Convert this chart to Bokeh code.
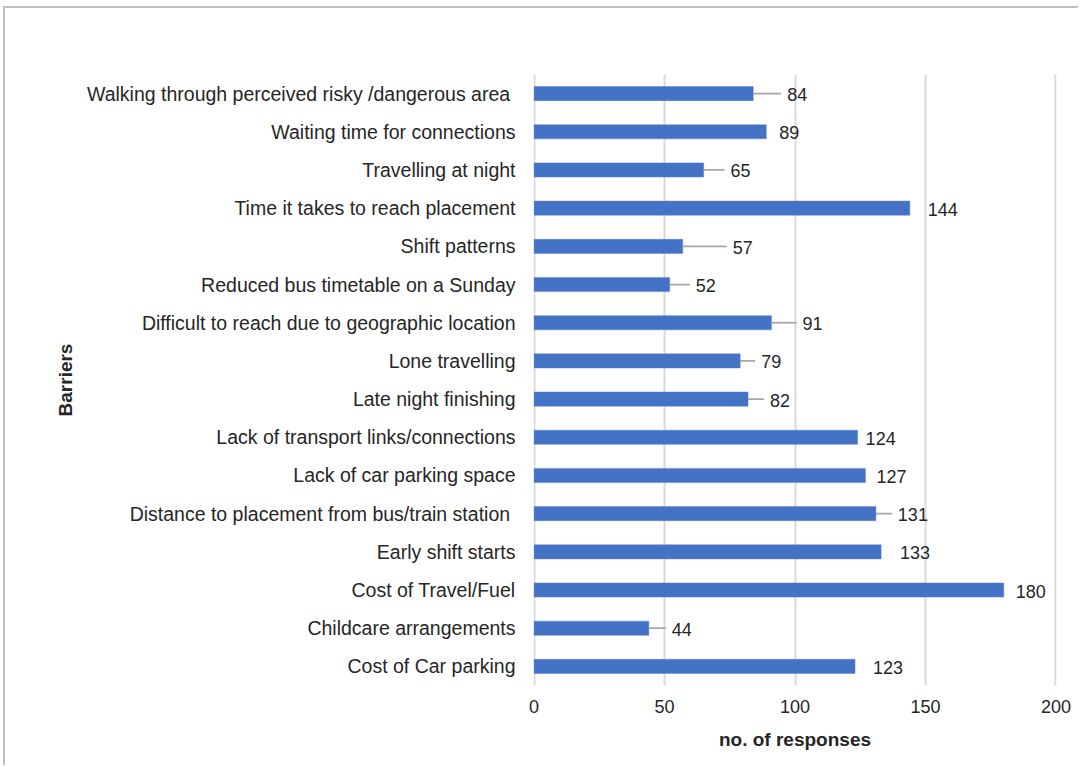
from bokeh.plotting import figure
from bokeh.models import ColumnDataSource, FactorRange, Range1d, FixedTicker
from bokeh.core.properties import value
from bokeh.embed import file_html
from bokeh.resources import INLINE

# ---- data (top to bottom as in the chart) ----
barriers = [
    "Walking through perceived risky /dangerous area ",
    "Waiting time for connections",
    "Travelling at night",
    "Time it takes to reach placement",
    "Shift patterns",
    "Reduced bus timetable on a Sunday",
    "Difficult to reach due to geographic location",
    "Lone travelling",
    "Late night finishing",
    "Lack of transport links/connections",
    "Lack of car parking space",
    "Distance to placement from bus/train station ",
    "Early shift starts",
    "Cost of Travel/Fuel",
    "Childcare arrangements",
    "Cost of Car parking",
]
responses = [84, 89, 65, 144, 57, 52, 91, 79, 82, 124, 127, 131, 133, 180, 44, 123]
x_ticks = [0, 50, 100, 150, 200]

# ---- layout of data labels (pixel gaps from bar end, leader line shown?) ----
label_gap_px = [34, 13, 27, 18, 50, 26, 31, 21, 22, 8, 11, 22, 19, 12, 23, 18]
leader = [True, False, True, False, True, True, True, True, True, False, False, True, False, False, True, False]

# page border offsets (CSS), figure sized to fill the rest of the window
BX, BY = 5, 8
W, H = 1080 - BX, 767 - BY
left, right, top, bottom = 533 - BX, 24, 74 - BY, 82
frame_w = W - left - right
xmax = 200
px_per_unit = frame_w / xmax

FONT = "Liberation Sans"
TXT = "#262626"

p = figure(width=W, height=H, output_backend="svg", toolbar_location=None,
           y_range=FactorRange(*list(reversed(barriers)), range_padding=0),
           x_range=Range1d(-0.2, xmax + 0.2),
           min_border_left=left, min_border_right=right,
           min_border_top=top, min_border_bottom=bottom)
p.outline_line_color = None
p.background_fill_color = "white"
p.border_fill_color = "white"
p.styles = {"border-top": "2px solid #bfbfbf", "border-left": "2px solid #bfbfbf",
            "margin-top": f"{BY - 2}px", "margin-left": f"{BX - 2}px"}

src = ColumnDataSource(dict(
    cat=barriers,
    val=responses,
    lab=[str(v) for v in responses],
    lx=[v + g / px_per_unit for v, g in zip(responses, label_gap_px)],
))
p.hbar(y="cat", right="val", left=0, height=0.37, source=src,
       fill_color="#4472C4", line_color="#5b84d0", line_width=0.5)

# leader lines
lx0, lx1, ly = [], [], []
for c, v, g, show in zip(barriers, responses, label_gap_px, leader):
    if show:
        lx0.append(v)
        lx1.append(v + (g - 6) / px_per_unit)
        ly.append(c)
p.segment(x0=lx0, x1=lx1, y0=ly, y1=ly, line_color="#a6a6a6", line_width=1.8)

p.text(x="lx", y="cat", text="lab", source=src, text_font=value(FONT),
       text_font_size="18px", text_color=TXT, text_baseline="middle",
       text_align="left", y_offset=1)

# axes
p.xaxis.ticker = FixedTicker(ticks=x_ticks)
p.xaxis.axis_line_color = None
p.xaxis.major_tick_line_color = None
p.xaxis.minor_tick_line_color = None
p.xaxis.major_label_text_font = FONT
p.xaxis.major_label_text_font_size = "18px"
p.xaxis.major_label_text_color = TXT
p.xaxis.major_label_standoff = 8
p.xaxis.axis_label = "no. of responses"
p.xaxis.axis_label_text_font = FONT
p.xaxis.axis_label_text_font_style = "bold"
p.xaxis.axis_label_text_font_size = "19px"
p.xaxis.axis_label_text_color = TXT
p.xaxis.axis_label_standoff = 13

p.yaxis.axis_line_color = None
p.yaxis.major_tick_line_color = None
p.yaxis.minor_tick_line_color = None
p.yaxis.major_label_text_font = FONT
p.yaxis.major_label_text_font_size = "19.5px"
p.yaxis.major_label_text_color = TXT
p.yaxis.major_label_standoff = 12
p.yaxis.axis_label = "Barriers"
p.yaxis.axis_label_text_font = FONT
p.yaxis.axis_label_text_font_style = "bold"
p.yaxis.axis_label_text_font_size = "19px"
p.yaxis.axis_label_text_color = TXT
p.yaxis.axis_label_standoff = 8

p.xgrid.grid_line_color = "#d9d9d9"
p.xgrid.grid_line_width = 2
p.ygrid.grid_line_color = None

open("out.html", "w").write(file_html(p, INLINE))
